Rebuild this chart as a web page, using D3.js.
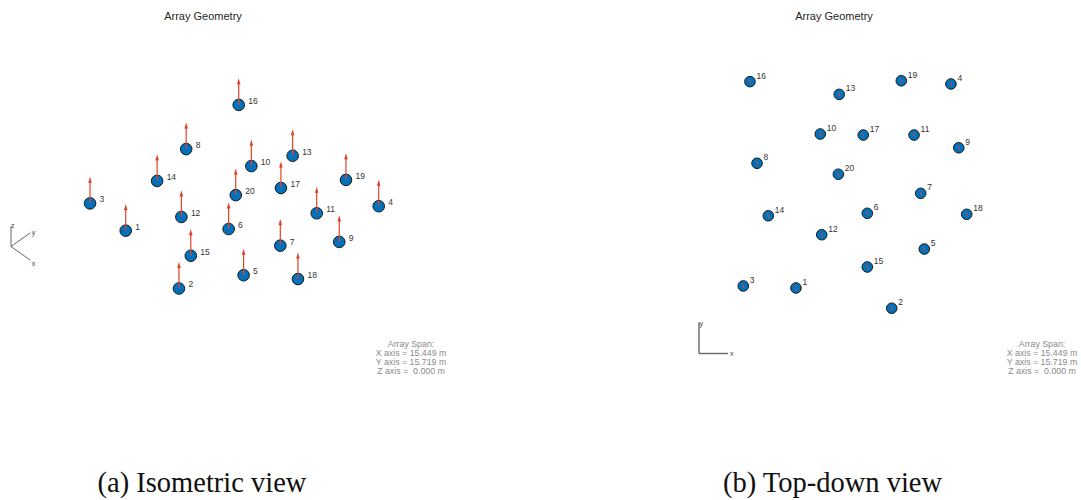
<!DOCTYPE html>
<html>
<head>
<meta charset="utf-8">
<script src="https://cdn.jsdelivr.net/npm/d3@7"></script>
<style>
  html, body { margin: 0; padding: 0; background: #fff; }
  svg { display: block; }
  text { font-family: "Liberation Sans", Arial, Helvetica, sans-serif; }
</style>
</head>
<body>
<svg id="fig" width="1081" height="500"></svg>
<script>
// Element numbers and their positions in the array plane (metres)
const elementIds = [1, 2, 3, 4, 5, 6, 7, 8, 9, 10, 11, 12, 13, 14, 15, 16, 17, 18, 19, 20];
const xPos = [-4.08, 2.54, -7.72, 6.63, 4.79, 0.85, 4.54, -6.77, 7.17, -2.40,
               4.08, -2.30, -1.09, -5.99, 0.85, -7.26, 0.57, 7.72, 3.20, -1.15];
const yPos = [-6.46, -7.86, -6.32, 7.64, -3.77, -1.30, 0.08, 2.16, 3.23, 4.18,
               4.11, -2.78, 6.92, -1.47, -5.01, 7.80, 4.11, -1.37, 7.86, 1.40];
const zPos = new Array(20).fill(0);

// Span annotation lines
const spanLines = ["Array Span:", "X axis = 15.449 m", "Y axis = 15.719 m", "Z axis =  0.000 m"];
const panelTitles = ["Array Geometry", "Array Geometry"];
const captions = ["(a) Isometric view", "(b) Top-down view"];

const elements = elementIds.map((id, i) => ({ id, x: xPos[i], y: yPos[i], z: zPos[i] }));

const svg = d3.select("#fig");
const BLUE = "#0072BD";
const RED = "#e0452a";

// ---------- Isometric view ----------
const el = 45 * Math.PI / 180;
const r2 = Math.SQRT2;
// screen coordinates from world coordinates (azimuth 45°, elevation 45°)
const isoU = d3.scaleLinear().domain([-10, 10]).range([233.2 - 144.2, 233.2 + 144.2]);
const isoV = d3.scaleLinear().domain([-10, 10]).range([213.5 - 144.2, 213.5 + 144.2]);
const isoPt = (x, y, z) => [
  isoU((x + y) / r2),
  isoV((x - y) / r2 * Math.sin(el) - z * Math.cos(el))
];
const normalLen = 2.4; // length of the normal arrows (m)

const gIso = svg.append("g");
gIso.append("text").attr("x", 203).attr("y", 20).attr("text-anchor", "middle")
  .attr("font-size", 11).attr("fill", "#262626").text(panelTitles[0]);

gIso.selectAll("circle.el").data(elements).join("circle")
  .attr("class", "el")
  .attr("cx", d => isoPt(d.x, d.y, d.z)[0])
  .attr("cy", d => isoPt(d.x, d.y, d.z)[1])
  .attr("r", 5.8)
  .attr("fill", BLUE).attr("stroke", "#1a1a1a").attr("stroke-width", 1);

// element normals
const arrows = gIso.selectAll("g.arrow").data(elements).join("g").attr("class", "arrow");
arrows.append("path")
  .attr("d", d => {
    const [x0, y0] = isoPt(d.x, d.y, d.z);
    const [x1, y1] = isoPt(d.x, d.y, d.z + normalLen);
    return `M${x0},${y0}L${x1},${y1}M${x1 - 1.2},${y1 + 4}L${x1},${y1}L${x1 + 1.2},${y1 + 4}`;
  })
  .attr("fill", "none").attr("stroke", RED).attr("stroke-width", 1.2);

gIso.selectAll("text.lbl").data(elements).join("text")
  .attr("class", "lbl")
  .attr("x", d => isoPt(d.x, d.y, d.z)[0] + 9.5)
  .attr("y", d => isoPt(d.x, d.y, d.z)[1] - 1)
  .attr("font-size", 8.5).attr("fill", "#333").text(d => d.id);

// orientation glyph
const gAx = gIso.append("g");
const o = [11, 246.5];
const glyphLen = 1.9;
const axDirs = [
  { name: "x", v: [glyphLen, 0, 0] },
  { name: "y", v: [0, glyphLen, 0] },
  { name: "z", v: [0, 0, glyphLen * 1.05] }
];
const base = isoPt(0, 0, 0);
axDirs.forEach(a => {
  const p = isoPt(...a.v);
  const dx = p[0] - base[0], dy = p[1] - base[1];
  gAx.append("line").attr("x1", o[0]).attr("y1", o[1])
    .attr("x2", o[0] + dx).attr("y2", o[1] + dy)
    .attr("stroke", "#555").attr("stroke-width", 0.9);
  gAx.append("text").attr("x", o[0] + dx + (a.name === "z" ? 0 : 1.5))
    .attr("y", o[1] + dy + (a.name === "x" ? 6 : 2))
    .attr("font-size", 7).attr("fill", "#444").text(a.name);
});

// span annotation
gIso.selectAll("text.span").data(spanLines).join("text")
  .attr("class", "span").attr("x", 411).attr("y", (d, i) => 346.5 + i * 9.1)
  .attr("text-anchor", "middle").attr("font-size", 8.8).attr("fill", "#8a8a8a")
  .style("white-space", "pre").text(d => d);

// ---------- Top-down view ----------
const sx = d3.scaleLinear().domain([-10, 10]).range([855 - 144.7, 855 + 144.7]);
const sy = d3.scaleLinear().domain([-10, 10]).range([194.5 + 144.7, 194.5 - 144.7]);

const gTop = svg.append("g");
gTop.append("text").attr("x", 834).attr("y", 20).attr("text-anchor", "middle")
  .attr("font-size", 11).attr("fill", "#262626").text(panelTitles[1]);

gTop.selectAll("circle.el").data(elements).join("circle")
  .attr("class", "el")
  .attr("cx", d => sx(d.x)).attr("cy", d => sy(d.y))
  .attr("r", 5.3)
  .attr("fill", BLUE).attr("stroke", "#1a1a1a").attr("stroke-width", 1);

// normals seen end-on
gTop.selectAll("line.nrm").data(elements).join("line")
  .attr("class", "nrm")
  .attr("x1", d => sx(d.x) - 0.8).attr("y1", d => sy(d.y) - 2.2)
  .attr("x2", d => sx(d.x) + 0.8).attr("y2", d => sy(d.y) + 2.2)
  .attr("stroke", RED).attr("stroke-width", 1);

gTop.selectAll("text.lbl").data(elements).join("text")
  .attr("class", "lbl")
  .attr("x", d => sx(d.x) + 6.5).attr("y", d => sy(d.y) - 3)
  .attr("font-size", 8.5).attr("fill", "#333").text(d => d.id);

// orientation glyph
const gAx2 = gTop.append("g");
const o2 = [699, 353.5];
gAx2.append("line").attr("x1", o2[0]).attr("y1", o2[1]).attr("x2", o2[0]).attr("y2", o2[1] - 31)
  .attr("stroke", "#666").attr("stroke-width", 1.4);
gAx2.append("line").attr("x1", o2[0]).attr("y1", o2[1]).attr("x2", o2[0] + 29).attr("y2", o2[1])
  .attr("stroke", "#666").attr("stroke-width", 1.4);
gAx2.append("text").attr("x", o2[0] + 0.5).attr("y", o2[1] - 27.5).attr("font-size", 7).attr("fill", "#444").text("y");
gAx2.append("text").attr("x", o2[0] + 31).attr("y", o2[1] + 2.5).attr("font-size", 7).attr("fill", "#444").text("x");

gTop.selectAll("text.span").data(spanLines).join("text")
  .attr("class", "span").attr("x", 1042).attr("y", (d, i) => 346.5 + i * 9.1)
  .attr("text-anchor", "middle").attr("font-size", 8.8).attr("fill", "#8a8a8a")
  .style("white-space", "pre").text(d => d);

// ---------- Captions ----------
svg.selectAll("text.cap").data(captions).join("text")
  .attr("class", "cap")
  .attr("x", (d, i) => i === 0 ? 202 : 832.5).attr("y", 492)
  .attr("text-anchor", "middle")
  .style("font-family", "'Liberation Serif', 'Times New Roman', serif")
  .attr("font-size", 28.5).attr("fill", "#111").text(d => d);
</script>
</body>
</html>
